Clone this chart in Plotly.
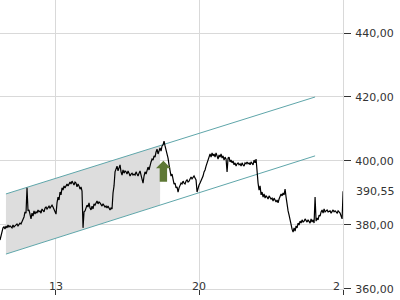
import numpy as np
import plotly.graph_objects as go

# ---- data ----
price = [
    375.3, 376.6, 378.4, 379.1, 379.4, 378.7, 379.7, 379.1, 380.0, 379.4,
    379.7, 379.4, 379.1, 380.0, 379.4, 379.7, 380.0, 380.3, 379.7, 380.0,
    380.6, 380.3, 380.9, 381.6, 382.5, 384.1, 383.7, 391.6, 384.4, 384.7,
    382.8, 381.9, 383.7, 382.8, 384.4, 383.4, 384.1, 383.7, 384.7, 384.1,
    384.4, 383.7, 385.0, 384.4, 384.1, 385.3, 385.6, 385.0, 385.3, 385.9,
    385.3, 385.6, 386.2, 385.6, 385.0, 384.4, 383.4, 386.9, 388.7, 387.8,
    390.3, 389.4, 391.6, 390.9, 392.2, 391.6, 392.5, 392.8, 392.2, 393.1,
    393.4, 392.8, 393.7, 393.1, 392.5, 393.4, 393.1, 391.9, 392.8, 392.2,
    391.2, 391.9, 390.6, 379.1, 384.1, 384.4, 385.3, 386.2, 385.6, 386.9,
    385.3, 384.7, 385.9, 385.0, 386.6, 386.2, 386.9, 387.5, 386.6, 387.2,
    386.9, 386.2, 385.9, 386.6, 386.2, 385.6, 385.9, 385.3, 385.9, 385.0,
    384.7, 385.3, 385.0, 390.0, 392.2, 396.6, 397.8, 398.4, 396.9, 397.8,
    398.8, 396.6, 395.6, 397.2, 396.2, 396.9, 396.6, 395.9, 396.9, 396.2,
    395.3, 395.9, 396.2, 395.6, 395.9, 395.6, 396.6, 395.9, 395.3, 396.2,
    396.9, 395.6, 394.1, 393.1, 395.3, 396.6, 395.9, 397.5, 398.1, 397.2,
    399.1, 399.7, 400.6, 400.3, 401.6, 401.2, 402.8, 403.7, 402.2, 403.4,
    404.1, 403.1, 404.7, 405.0, 406.2, 404.7, 403.4, 402.5, 400.9, 398.8,
    397.2, 395.3, 395.9, 393.7, 392.8, 393.1, 391.6, 391.9, 390.3, 391.6,
    392.2, 393.1, 392.8, 393.7, 393.1, 392.8, 393.7, 394.1, 393.4, 393.7,
    394.4, 395.0, 394.4, 394.7, 395.3, 394.7, 394.1, 390.3, 391.9, 392.5,
    393.1, 393.7, 394.7, 395.3, 396.6, 397.2, 398.4, 399.4, 400.9, 401.9,
    402.2, 401.2, 402.5, 401.6, 402.2, 401.2, 402.5, 401.6, 400.6, 401.9,
    401.2, 402.2, 400.9, 401.6, 400.3, 401.2, 400.6, 396.6, 400.9, 401.2,
    399.7, 400.3, 399.4, 400.0, 398.8, 399.4, 398.4, 399.1, 399.4, 398.8,
    399.1, 398.4, 399.4, 398.8, 398.4, 399.4, 399.1, 399.7, 399.1, 399.4,
    398.8, 399.7, 399.1, 398.8, 400.3, 399.4, 400.6, 394.7, 393.1, 390.9,
    392.2, 389.4, 390.3, 388.7, 389.7, 388.4, 389.1, 388.7, 388.1, 389.1,
    388.7, 388.1, 388.4, 387.5, 388.4, 387.8, 387.2, 387.8, 386.9, 388.1,
    388.7, 389.7, 389.1, 390.0, 389.4, 391.2, 388.7, 386.2, 384.4, 383.1,
    381.6, 379.4, 378.7, 377.8, 379.1, 378.1, 379.7, 379.1, 380.6, 380.0,
    381.2, 380.6, 381.6, 380.9, 381.2, 381.9, 381.2, 380.9, 381.6, 381.2,
    380.6, 381.9, 380.9, 381.6, 380.6, 388.7, 381.2, 382.2, 381.6, 383.1,
    382.8, 384.1, 384.7, 383.7, 385.0, 384.1, 384.4, 384.7, 384.1, 384.4,
    384.4, 383.7, 384.1, 384.7, 384.1, 384.4, 384.1, 383.7, 384.4, 384.1,
    383.7, 382.8, 381.9, 390.55,
]
start_day = 10.29          # first sample (day of month)
sample_step = 0.04873      # sampling interval in days (~70 min)

last_price = 390.55

# trend channel (day, price)
channel_days = [10.58, 25.64]
channel_upper = [389.7, 420.0]
channel_lower = [370.9, 401.6]
shade_end_day = 18.09

# buy signal arrow
signal_day = 18.25
signal_price = 393.5

x_ticks = [13, 20, 27]
x_labels = ["13", "20", "2"]
y_ticks = [360, 380, 400, 420, 440]
x_range = [10.29, 27.0]
y_range = [359.99, 450.3125]

# ---- figure ----
days = start_day + sample_step * np.arange(len(price))

up_end = float(np.interp(shade_end_day, channel_days, channel_upper))
lo_end = float(np.interp(shade_end_day, channel_days, channel_lower))

fig = go.Figure()
fig.add_trace(go.Scatter(
    x=[channel_days[0], shade_end_day, shade_end_day, channel_days[0], channel_days[0]],
    y=[channel_upper[0], up_end, lo_end, channel_lower[0], channel_upper[0]],
    fill="toself", fillcolor="#dddddd", line=dict(width=0), mode="lines",
    hoverinfo="skip"))
fig.add_trace(go.Scatter(x=channel_days, y=channel_upper, mode="lines",
                         line=dict(color="#5fa6aa", width=1)))
fig.add_trace(go.Scatter(x=channel_days, y=channel_lower, mode="lines",
                         line=dict(color="#5fa6aa", width=1)))
fig.add_trace(go.Scatter(x=days, y=price, mode="lines",
                         line=dict(color="#000000", width=1.2)))

fig.add_shape(type="path", xref="x", yref="y", xsizemode="pixel", ysizemode="pixel",
              xanchor=signal_day, yanchor=signal_price,
              path="M -3.7 0 L 3.7 0 L 3.7 13.5 L 7.4 13.5 L 0 21 L -7.4 13.5 L -3.7 13.5 Z",
              fillcolor="#5f7936", line=dict(width=0))

font = dict(family="DejaVu Sans", size=11, color="#333333")

# x tick labels drawn above the axis line (the last one is cut at the plot edge)
for tv, tt in zip(x_ticks, x_labels):
    last = tv == x_ticks[-1]
    fig.add_annotation(x=tv, xref="x", y=0, yref="paper", text=tt, showarrow=False,
                       xanchor="right" if last else "center", yanchor="middle",
                       yshift=3, xshift=-1 if last else 0, font=font)
fig.add_annotation(x=1, xref="paper", y=last_price, yref="y", text=f"{last_price:.2f}".replace(".", ","),
                   showarrow=False, xanchor="left", yanchor="middle", xshift=11, font=font)

fig.update_layout(
    width=400, height=300,
    margin=dict(l=0, r=57, t=0, b=11),
    paper_bgcolor="white", plot_bgcolor="white",
    showlegend=False, separators=", ",
    font=font,
    xaxis=dict(range=x_range, tickvals=x_ticks, showticklabels=False,
               showgrid=True, gridcolor="#d9d9d9", gridwidth=1, zeroline=False,
               ticks="outside", ticklen=5, tickcolor="#333333",
               showline=True, linecolor="#d9d9d9"),
    yaxis=dict(range=y_range, side="right", tickvals=y_ticks, tickformat=".2f",
               showgrid=True, gridcolor="#d9d9d9", gridwidth=1, zeroline=False,
               ticks="outside", ticklen=7, tickcolor="#333333",
               ticklabelstandoff=2, ticklabeloverflow="allow",
               showline=True, linecolor="#d9d9d9", tickfont=font),
)

fig.write_html("out.html")
